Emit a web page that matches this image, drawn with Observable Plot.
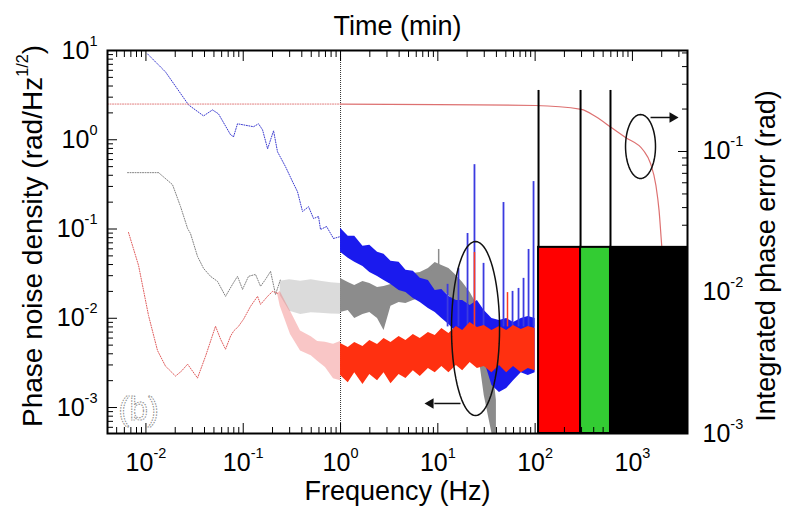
<!DOCTYPE html>
<html><head><meta charset="utf-8">
<script src="https://cdn.jsdelivr.net/npm/d3@7"></script>
<script src="https://cdn.jsdelivr.net/npm/@observablehq/plot@0.6"></script>
<style>
html,body{margin:0;padding:0;background:#fff;}
</style>
</head><body><div id="chart"></div>
<script>
// ---------- axis extents ----------
const xLog = [-2.395, 3.566];          // log10 frequency extent (Hz)
const leftLog = [-3.291, 1];           // log10 phase-noise density extent
const rightLog = [-3, -0.2837];        // log10 integrated phase error extent
const xMajor = [0.01, 0.1, 1, 10, 100, 1000];
const yMajor = [0.001, 0.01, 0.1, 1, 10];
const rMajor = [0.001, 0.01, 0.1];

// ---------- low-frequency (< 1 Hz) dotted traces ----------
const blueLowF = [0.0104,0.0159,0.0274,0.0391,0.0483,0.0557,0.074,0.0795,0.0873,0.1276,0.1436,0.158,0.178,0.205,0.225,0.272,0.321,0.361,0.407,0.469,0.528,0.594,0.623,0.718,0.847,1];
const blueLowV = [9.14,5.75,2.46,1.85,2.16,1.95,1.14,1.08,1.51,1.40,1.51,1.29,0.793,1.26,0.734,0.499,0.340,0.262,0.157,0.178,0.131,0.138,0.0987,0.1067,0.0783,0.0824];
const grayLowF = [0.00647,0.01349,0.01876,0.0227,0.0268,0.0287,0.0339,0.0391,0.0461,0.0544,0.0658,0.0776,0.0873,0.0984,0.1133,0.1337,0.1507,0.1695,0.1909,0.2148,0.2417];
const grayLowV = [0.428,0.428,0.314,0.178,0.1013,0.0891,0.0493,0.0362,0.0295,0.0259,0.0176,0.0240,0.0295,0.0211,0.0295,0.0310,0.0228,0.0273,0.0335,0.0185,0.0273];
const redLowF = [0.00662,0.0084,0.01064,0.01315,0.01589,0.02014,0.02321,0.0268,0.0301,0.0339,0.0410,0.0519,0.0585,0.0658,0.0740,0.0795,0.0895,0.1007,0.1189,0.1403,0.1507,0.1778,0.2000,0.2254];
const redLowV = [0.0914,0.039,0.0107,0.00435,0.00291,0.00225,0.00256,0.00306,0.00256,0.00214,0.00376,0.00814,0.00583,0.00450,0.00629,0.00716,0.00814,0.00975,0.0136,0.0176,0.0143,0.0176,0.0200,0.0190];
// dense low-frequency ranges
const grayDenseF  = [0.24,0.3,0.39,0.5,0.62,0.8,1.0];
const grayDenseHi = [0.026,0.027,0.026,0.027,0.026,0.025,0.0245];
const grayDenseLo = [0.018,0.012,0.011,0.0115,0.0114,0.0112,0.0111];
const redDenseF  = [0.225,0.24,0.306,0.388,0.5,0.582,0.7,0.847,1.0];
const redDenseHi = [0.019,0.020,0.0120,0.0072,0.0062,0.0055,0.0054,0.0051,0.0055];
const redDenseLo = [0.019,0.0136,0.0066,0.0043,0.0038,0.0033,0.0028,0.0021,0.0020];

// ---------- 1-100 Hz noise envelopes ----------
const bandF = [1,1.2,1.4,1.7,2,2.4,2.8,3.3,4,4.7,5.6,6.6,8,9.4,11,13,15.5,18,21.5,25.5,30,36,43,51,60,72,85,100];
const blueHi = [0.1020,0.0831,0.0831,0.0642,0.0658,0.0549,0.0521,0.0435,0.0424,0.0345,0.0336,0.0281,0.0265,0.0205,0.0210,0.0175,0.0158,0.0158,0.0139,0.0158,0.0122,0.00993,0.00944,0.00993,0.00896,0.00993,0.01047,0.00993];
const blueLo = [0.0549,0.0470,0.0424,0.0380,0.0326,0.0294,0.0265,0.0239,0.0205,0.0195,0.0166,0.0150,0.0129,0.0116,0.00993,0.00851,0.00692,0.00562,0.00494,0.00458,0.00336,0.00176,0.00147,0.00163,0.00200,0.00246,0.00228,0.00246];
const redHi = [0.00521,0.00470,0.00535,0.00482,0.00562,0.00508,0.00593,0.00535,0.00624,0.00562,0.00657,0.00593,0.00692,0.00640,0.00767,0.00675,0.00808,0.00729,0.00896,0.00787,0.00829,0.00729,0.00808,0.00729,0.00829,0.00748,0.00808,0.00767];
const redLo = [0.00228,0.00190,0.00246,0.00181,0.00234,0.00200,0.00246,0.00185,0.00234,0.00211,0.00259,0.00222,0.00273,0.00246,0.00288,0.00246,0.00295,0.00259,0.00319,0.00273,0.00288,0.00246,0.00295,0.00246,0.00288,0.00246,0.00273,0.00259];
const grayF  = [1,1.2,1.4,1.7,2,2.4,2.8,3.3,4,4.7,5.6,6.6,8,9.4,11,13,15.5,18,21.5,25.5,30,36,40];
const grayHi = [0.0279,0.0251,0.0233,0.0258,0.0245,0.0221,0.0227,0.0239,0.0279,0.0294,0.0317,0.0326,0.0361,0.0422,0.0390,0.0361,0.0301,0.0251,0.0195,0.0139,0.00729,0.00336,0.00120];
const grayLo = [0.0116,0.0122,0.00993,0.0110,0.0116,0.00993,0.00729,0.0136,0.0150,0.0146,0.0158,0.0166,0.0185,0.0195,0.0205,0.0180,0.0139,0.0107,0.00641,0.00495,0.00136,0.000512,0.000512];

// ---------- spectral spikes ----------
const blueSpikeF   = [12.6,16.3,20.2,23.8,29.5,47.3,58.6,67.5,76.0,85.6,96.3];
const blueSpikeTop = [0.024,0.0362,0.0891,0.526,0.0412,0.198,0.0200,0.0216,0.0280,0.059,0.340];
const redSpikeF    = [23.8,52];
const redSpikeTop  = [0.0546,0.0194];
const graySpikeF   = [8.4,10.2];
const graySpikeTop = [0.0342,0.059];
const spikeBase = 0.008;

// ---------- integrated phase error (right axis, rad) ----------
const ipeDotF = [0.00403,1];
const ipeDotV = [0.217,0.217];
const ipeF = [1,10,100,298,418,622,850,1298,1535,1744,1878,2000,2150];
const ipeV = [0.217,0.215,0.212,0.199,0.177,0.146,0.1256,0.1016,0.0822,0.0574,0.0382,0.0215,0.012];

// ---------- coloured bins (right axis) ----------
const binX1 = [108.4,293,595];
const binX2 = [293,595,3683];
const binColor = ["#ff0000","#33cc33","#000000"];
const binTop = 0.0209;
const binLineTop = 0.271;

// ---------- helpers ----------
const toL = r => Math.pow(10, leftLog[0] + (Math.log10(r) - rightLog[0]) * (leftLog[1]-leftLog[0]) / (rightLog[1]-rightLog[0]));
const zip = (xs, ys) => xs.map((x,i) => ({x, y: ys[i]}));
const band = (xs, lo, hi) => xs.map((x,i) => ({x, lo: lo[i], hi: hi[i]}));
const spikes = (xs, tops) => xs.map((x,i) => ({x, top: tops[i]}));
const minors = (k0, k1, lo, hi) => { const out=[]; for (let k=k0;k<=k1;k++) for (let m=2;m<=9;m++){const v=m*Math.pow(10,k); if (v>lo && v<hi) out.push(v);} return out; };
const xDom = [Math.pow(10,xLog[0]), Math.pow(10,xLog[1])];
const yDom = [Math.pow(10,leftLog[0]), Math.pow(10,leftLog[1])];
const rDom = [Math.pow(10,rightLog[0]), Math.pow(10,rightLog[1])];
const xMinor = minors(-3,3,xDom[0],xDom[1]);
const yMinor = minors(-4,0,yDom[0],yDom[1]);
const rMinor = minors(-3,-1,rDom[0],rDom[1]);
const fmtPow = v => `10^{${Math.round(Math.log10(v))}}`;
const blank = () => "";
// annotation ellipse outline, defined in log space
const ellipse = (cf, cv, rx, ry) => d3.range(0, 73).map(i => { const t = 2*Math.PI*i/72; return {x: cf*Math.pow(10, rx*Math.cos(t)), y: cv*Math.pow(10, ry*Math.sin(t))}; });
const bins = binX1.map((x1,i) => ({x1, x2: binX2[i], fill: binColor[i]}));

const TICK_FS = 25, TITLE_FS = 27;
const tickAxes = [
  Plot.axisX({anchor:"bottom", ticks:xMajor, tickSize:-10, tickFormat:blank, label:null}),
  Plot.axisX({anchor:"bottom", ticks:xMinor, tickSize:-6, tickFormat:blank, label:null}),
  Plot.axisX({anchor:"top", ticks:xMajor, tickSize:-10, tickFormat:blank, label:null}),
  Plot.axisX({anchor:"top", ticks:xMinor, tickSize:-6, tickFormat:blank, label:null}),
  Plot.axisY({anchor:"left", ticks:yMajor, tickSize:-10, tickFormat:blank, label:null}),
  Plot.axisY({anchor:"left", ticks:yMinor, tickSize:-6, tickFormat:blank, label:null}),
  Plot.axisY({anchor:"right", ticks:rMajor.map(toL), tickSize:-10, tickFormat:blank, label:null}),
  Plot.axisY({anchor:"right", ticks:rMinor.map(toL), tickSize:-6, tickFormat:blank, label:null})
];

const chart = Plot.plot({
  width: 787, height: 507,
  marginTop: 50, marginBottom: 74, marginLeft: 107, marginRight: 100,
  style: {fontFamily: "'Liberation Sans', Arial, Helvetica, sans-serif", fontSize: TICK_FS + "px", background: "#fff", color: "#000"},
  x: {type: "log", domain: xDom},
  y: {type: "log", domain: yDom},
  color: {type: "identity"},
  marks: [
    // low-frequency dotted traces
    Plot.areaY(band(grayDenseF, grayDenseLo, grayDenseHi), {x:"x", y1:"lo", y2:"hi", fill:"#b0b0b0", fillOpacity:0.45}),
    Plot.areaY(band(redDenseF, redDenseLo, redDenseHi), {x:"x", y1:"lo", y2:"hi", fill:"#f07070", fillOpacity:0.4}),
    Plot.line(zip(grayLowF, grayLowV), {x:"x", y:"y", stroke:"#808080", strokeWidth:1, strokeDasharray:"1,1.5"}),
    Plot.line(zip(redLowF, redLowV), {x:"x", y:"y", stroke:"#e05a5a", strokeWidth:1, strokeDasharray:"1,1.5"}),
    Plot.line(zip(blueLowF, blueLowV), {x:"x", y:"y", stroke:"#3a3ad0", strokeWidth:1, strokeDasharray:"1,1.5"}),
    // 1 Hz divider
    Plot.ruleX([1], {stroke:"#333", strokeWidth:1, strokeDasharray:"1,1"}),
    // integrated phase error (right axis)
    Plot.line(zip(ipeDotF, ipeDotV.map(toL)), {x:"x", y:"y", stroke:"#e07878", strokeWidth:1, strokeDasharray:"1,1.5"}),
    Plot.line(zip(ipeF, ipeV.map(toL)), {x:"x", y:"y", stroke:"#dd7070", strokeWidth:1.2, curve:"monotone-x"}),
    // noise envelopes
    Plot.areaY(band(grayF, grayLo, grayHi), {x:"x", y1:"lo", y2:"hi", fill:"#8c8c8c"}),
    Plot.ruleX(spikes(graySpikeF, graySpikeTop), {x:"x", y1:spikeBase*2, y2:"top", stroke:"#8c8c8c", strokeWidth:1.5}),
    Plot.areaY(band(bandF, blueLo, blueHi), {x:"x", y1:"lo", y2:"hi", fill:"#1a1aee"}),
    Plot.ruleX(spikes(blueSpikeF, blueSpikeTop), {x:"x", y1:spikeBase, y2:"top", stroke:"#3b3be0", strokeWidth:1.8}),
    Plot.areaY(band(bandF, redLo, redHi), {x:"x", y1:"lo", y2:"hi", fill:"#ff3010"}),
    Plot.ruleX(spikes(redSpikeF, redSpikeTop), {x:"x", y1:spikeBase, y2:"top", stroke:"#ff3a20", strokeWidth:1.5}),
    // coloured bins
    Plot.ruleX(binX1, {x:d=>d, y1:toL(binTop), y2:toL(binLineTop), stroke:"#000", strokeWidth:2}),
    Plot.rect(bins, {x1:"x1", x2:"x2", y1:yDom[0], y2:toL(binTop), fill:"fill", stroke:"#000", strokeWidth:2}),
    // annotations
    Plot.line(ellipse(24.4, 0.00767, 0.247, 0.975), {x:"x", y:"y", stroke:"#111", strokeWidth:1.5}),
    Plot.line(ellipse(1211, 0.840, 0.154, 0.3585), {x:"x", y:"y", stroke:"#111", strokeWidth:1.5}),
    Plot.link([0], {x1:[17.1], x2:[9.2], y1:[0.00111], y2:[0.00111], stroke:"#111", strokeWidth:1.5}),
    Plot.dot([0], {x:[8.42], y:[0.00111], symbol:"triangle2", r:5, fill:"#111", rotate:-90}),
    Plot.link([0], {x1:[1535], x2:[2450], y1:[1.776], y2:[1.776], stroke:"#111", strokeWidth:1.5}),
    Plot.dot([0], {x:[2584], y:[1.776], symbol:"triangle2", r:5, fill:"#111", rotate:90}),
    Plot.text([0], {x:[0.0084], y:[0.00095], text:["(b)"], fontSize:33, fill:"none", stroke:"#888", strokeWidth:1, strokeDasharray:"1.5,1.2"}),
    // frame and axes
    Plot.frame({stroke:"#000", strokeWidth:2}),
    ...tickAxes,
    Plot.axisX({anchor:"bottom", ticks:xMajor, tickSize:0, tickPadding:20, tickFormat:fmtPow, label:null, fontSize:TICK_FS}),
    Plot.axisY({anchor:"left", ticks:yMajor, tickSize:0, tickPadding:10, tickFormat:fmtPow, label:null, fontSize:TICK_FS}),
    Plot.text(rMajor, {x:xDom[1], y:r => toL(r), text:fmtPow, dx:15, textAnchor:"start", lineAnchor:"middle", fontSize:TICK_FS}),
    // titles
    Plot.text([0], {text:["Time (min)"], frameAnchor:"top", dy:-24, lineAnchor:"middle", textAnchor:"middle", fontSize:TITLE_FS}),
    Plot.text([0], {text:["Frequency (Hz)"], frameAnchor:"bottom", dy:58, lineAnchor:"middle", textAnchor:"middle", fontSize:TITLE_FS}),
    Plot.text([0], {text:["Phase noise density (rad/Hz^{1/2})"], frameAnchor:"left", dx:-74, dy:-6, rotate:-90, textAnchor:"middle", lineAnchor:"middle", fontSize:28}),
    Plot.text([0], {text:["Integrated phase error (rad)"], frameAnchor:"right", dx:79, dy:14, rotate:-90, textAnchor:"middle", lineAnchor:"middle", fontSize:TITLE_FS})
  ]
});

// superscripts: turn "^{...}" into raised tspans
function supify(el) {
  const s = el.textContent;
  if (!s.includes("^{")) return;
  const fs = parseFloat(getComputedStyle(el).fontSize) || TICK_FS;
  const parts = s.split(/(\^\{[^}]*\})/).filter(p => p !== "");
  el.textContent = "";
  let raised = false;
  for (const p of parts) {
    const t = document.createElementNS("http://www.w3.org/2000/svg", "tspan");
    if (p.startsWith("^{")) {
      t.textContent = p.slice(2, -1);
      t.setAttribute("font-size", (fs * 0.58).toFixed(1));
      t.setAttribute("dy", (-fs * 0.52).toFixed(1));
      raised = true;
    } else {
      t.textContent = p;
      if (raised) { t.setAttribute("dy", (fs * 0.52).toFixed(1)); raised = false; }
    }
    el.appendChild(t);
  }
}
document.getElementById("chart").appendChild(chart);
d3.select(chart).selectAll("text").each(function(){ supify(this); });
</script>
</body></html>
